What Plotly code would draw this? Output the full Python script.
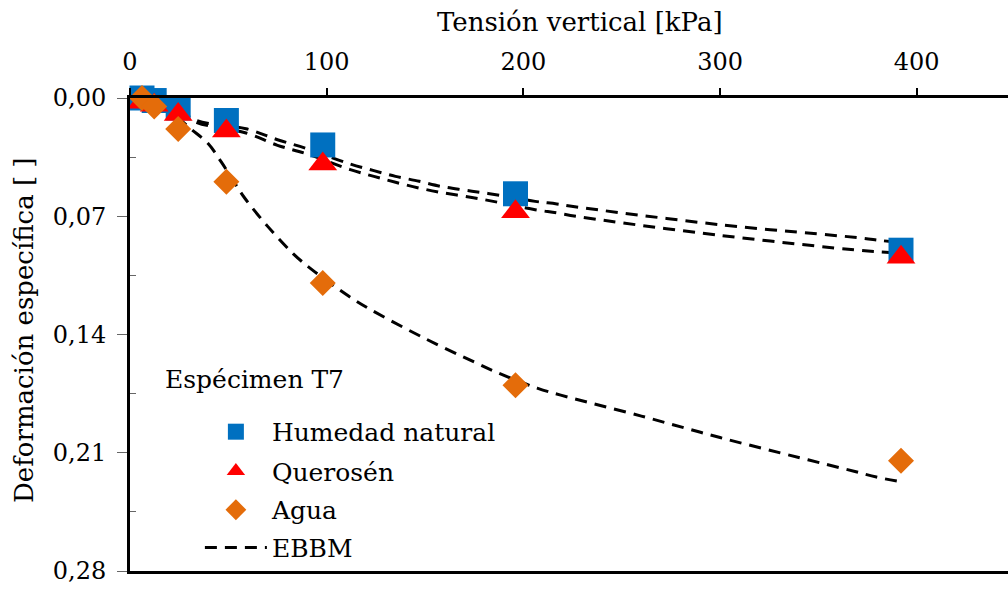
import plotly.graph_objects as go

# Oedometer loading steps [kPa]
carga_kpa = [6.1, 12.3, 24.5, 49, 98, 196, 392]

# Measured vertical strain for each saturating condition
humedad_natural = [0.0, 0.0015, 0.0059, 0.0133, 0.0278, 0.0567, 0.0901]
querosen = [0.0025, 0.0043, 0.0097, 0.0195, 0.0391, 0.0674, 0.0943]
agua = [0.0, 0.0051, 0.0183, 0.0496, 0.1095, 0.1701, 0.2148]

# EBBM model curves
ebbm_x = [6.1, 12.3, 24.5, 34, 59, 75, 90, 112, 124, 135, 147, 158, 170, 182,
          206, 217, 227, 300, 371, 382, 392]
ebbm_humedad = [0.0, 0.002, 0.007, 0.0134, 0.0182, 0.0247, 0.0300, 0.0391, 0.0430,
                0.0464, 0.0493, 0.0523, 0.0545, 0.0565, 0.0612, 0.0627, 0.0645,
                0.0750, 0.0828, 0.0844, 0.0856]
ebbm_querosen = [0.0, 0.002, 0.008, 0.0145, 0.0207, 0.0280, 0.0331, 0.0424, 0.0464,
                 0.0499, 0.0533, 0.0559, 0.0582, 0.0606, 0.0661, 0.0680, 0.0701,
                 0.0813, 0.0902, 0.0911, 0.0918]
ebbm_agua_x = [6.1, 12.3, 24.5, 31.5, 39.7, 46.3, 53.9, 58.3, 70, 82.9, 92.5, 111.3,
               121.5, 149, 175, 185, 207, 219, 260, 300, 340, 368.6, 379.5, 392]
ebbm_agua = [0.0, 0.003, 0.012, 0.0188, 0.0270, 0.0377, 0.0515, 0.0592, 0.076, 0.0921,
             0.1016, 0.1174, 0.1247, 0.1418, 0.1563, 0.1617, 0.1717, 0.1759, 0.1883,
             0.2010, 0.2128, 0.2211, 0.2244, 0.2272]

x_ticks = [0, 100, 200, 300, 400]
y_ticks = [0.0, 0.07, 0.14, 0.21, 0.28]
y_minor = [0.035, 0.105, 0.175, 0.245]

X_MAX = 446.4
Y_MAX = 0.28

SERIF = "DejaVu Serif"
AZUL = "#0070C0"
ROJO = "#FF0000"
NARANJA = "#E46C0A"

fig = go.Figure()

# model curves first so the markers sit on top
dash_style = dict(color="black", width=3, dash="12px,8px", shape="spline", smoothing=1.0)
fig.add_trace(go.Scatter(x=ebbm_x, y=ebbm_humedad, mode="lines", line=dash_style,
                         showlegend=False, cliponaxis=False, hoverinfo="skip"))
fig.add_trace(go.Scatter(x=ebbm_x, y=ebbm_querosen, mode="lines", line=dash_style,
                         showlegend=False, cliponaxis=False, hoverinfo="skip"))
fig.add_trace(go.Scatter(x=ebbm_agua_x, y=ebbm_agua, mode="lines", line=dash_style,
                         name="EBBM", legend="legend4", cliponaxis=False))

fig.add_trace(go.Scatter(x=carga_kpa, y=humedad_natural, mode="markers", name="Humedad natural",
                         marker=dict(symbol="square", size=25, color=AZUL),
                         legend="legend", cliponaxis=False))
fig.add_trace(go.Scatter(x=carga_kpa, y=querosen, mode="markers", name="Querosén",
                         marker=dict(symbol="triangle-up", size=25, color=ROJO),
                         legend="legend2", cliponaxis=False))
fig.add_trace(go.Scatter(x=carga_kpa, y=agua, mode="markers", name="Agua",
                         marker=dict(symbol="diamond", size=20, color=NARANJA),
                         legend="legend3", cliponaxis=False))


def legend_box(ypos):
    return dict(x=0.0796, y=ypos, xanchor="left", yanchor="middle",
                bgcolor="rgba(0,0,0,0)", borderwidth=0, itemwidth=62,
                font=dict(family=SERIF, size=25, color="black"))


fig.update_layout(
    width=1008, height=590,
    margin=dict(l=130, r=0, t=98, b=19),
    paper_bgcolor="white", plot_bgcolor="white",
    separators=",.",
    font=dict(family=SERIF, color="black"),
    xaxis=dict(range=[0, X_MAX], side="top", tickvals=x_ticks,
               showline=True, linecolor="black", linewidth=3, mirror=True,
               ticks="outside", ticklen=7, tickwidth=1.5, tickcolor="black",
               ticklabelstandoff=8,
               showgrid=False, zeroline=False,
               tickfont=dict(family=SERIF, size=24, color="black")),
    xaxis2=dict(range=[0, X_MAX], overlaying="x", side="top", anchor="y",
                tick0=0, dtick=50, ticks="inside", ticklen=8, tickwidth=1.5,
                tickcolor="black", showticklabels=False, showline=False,
                showgrid=False, zeroline=False),
    yaxis=dict(range=[Y_MAX, 0], tickvals=y_ticks, tickformat=".2f",
               showline=True, linecolor="black", linewidth=3,
               ticks="outside", ticklen=10, tickwidth=1, tickcolor="#666",
               ticklabelstandoff=6,
               minor=dict(tickvals=y_minor, ticks="inside", ticklen=6,
                          tickwidth=1, tickcolor="#666"),
               showgrid=False, zeroline=False,
               tickfont=dict(family=SERIF, size=24, color="black")),
    legend=legend_box(0.294),
    legend2=legend_box(0.211),
    legend3=legend_box(0.129),
    legend4=legend_box(0.049),
    annotations=[
        dict(text="Tensión vertical [kPa]", xref="paper", yref="paper",
             x=0.5125, y=1.16, xanchor="center", yanchor="middle", showarrow=False,
             font=dict(family=SERIF, size=26, color="black")),
        dict(text="Deformación específica [ ]", xref="paper", yref="paper",
             x=-0.1207, y=0.5095, xanchor="center", yanchor="middle", showarrow=False,
             textangle=-90, font=dict(family=SERIF, size=26, color="black")),
        dict(text="Espécimen T7", xref="paper", yref="paper",
             x=0.0376, y=0.404, xanchor="left", yanchor="middle", showarrow=False,
             font=dict(family=SERIF, size=25, color="black")),
    ],
)

fig.write_html("out.html")
